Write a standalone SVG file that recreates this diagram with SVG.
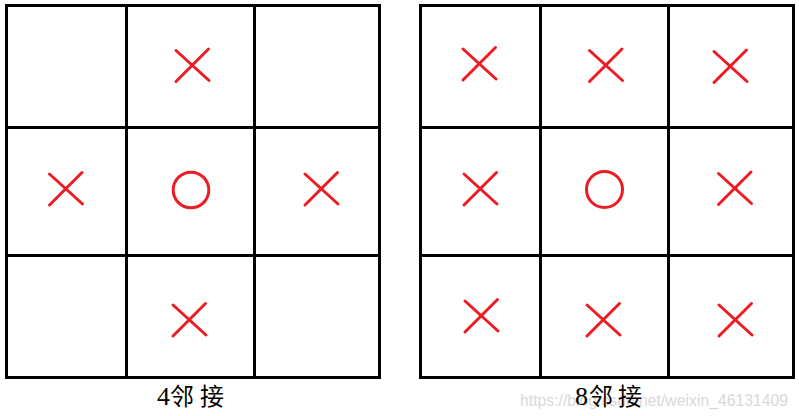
<svg xmlns="http://www.w3.org/2000/svg" xmlns:xlink="http://www.w3.org/1999/xlink" width="799" height="416" viewBox="0 0 799 416">
  <style>
    .grid { fill: none; stroke: #000000; stroke-width: 3; }
    .mark { fill: none; stroke: #ED1C24; stroke-width: 3; stroke-linecap: round; }
    .num { font-family: "Liberation Serif", "DejaVu Serif", serif; font-size: 26px; fill: #000000; }
    .cjk { font-family: "Noto Sans CJK SC", "Noto Sans CJK JP", sans-serif; font-size: 24px; fill: #000000; }
    .wm { font-family: "Liberation Sans", Arial, sans-serif; font-size: 16px; fill: #d9d9d9; }
  </style>
  <defs>
    <path id="cross" d="M-16.5,-14.5 L16.5,15.5 M-16.5,16.5 L16,-16"/>
  </defs>
  <rect width="799" height="416" fill="#ffffff"/>

  <g id="grid-4">
    <rect class="grid" x="6.5" y="5.5" width="373" height="372"/>
    <path class="grid" d="M126.5,5.5 V377.5 M254.5,5.5 V377.5 M6.5,127.5 H379.5 M6.5,255.5 H379.5"/>
    <g id="marks-4">
      <use class="mark" xlink:href="#cross" href="#cross" x="192.5" y="65"/>
      <use class="mark" xlink:href="#cross" href="#cross" x="66" y="188.5"/>
      <use class="mark" xlink:href="#cross" href="#cross" x="321.5" y="188.5"/>
      <use class="mark" xlink:href="#cross" href="#cross" x="189.5" y="319.5"/>
      <circle class="mark" cx="191" cy="190" r="17.8"/>
    </g>
  </g>

  <g id="grid-8">
    <rect class="grid" x="420.5" y="5.5" width="373" height="372"/>
    <path class="grid" d="M540.5,5.5 V377.5 M668.5,5.5 V377.5 M420.5,127.5 H793.5 M420.5,255.5 H793.5"/>
    <g id="marks-8">
      <use class="mark" xlink:href="#cross" href="#cross" x="479.5" y="63.5"/>
      <use class="mark" xlink:href="#cross" href="#cross" x="606" y="65"/>
      <use class="mark" xlink:href="#cross" href="#cross" x="730.5" y="66"/>
      <use class="mark" xlink:href="#cross" href="#cross" x="480.5" y="188.5"/>
      <use class="mark" xlink:href="#cross" href="#cross" x="735" y="188"/>
      <use class="mark" xlink:href="#cross" href="#cross" x="481.5" y="315.5"/>
      <use class="mark" xlink:href="#cross" href="#cross" x="603.5" y="319.5"/>
      <use class="mark" xlink:href="#cross" href="#cross" x="735.5" y="319.5"/>
      <circle class="mark" cx="604.5" cy="189.5" r="18"/>
    </g>
  </g>

  <g id="watermark">
    <text class="wm" x="520" y="406" textLength="268" lengthAdjust="spacingAndGlyphs">https://blog.csdn.net/weixin_46131409</text>
  </g>

  <g id="label-4">
    <text y="405"><tspan class="num" x="157">4</tspan><tspan class="cjk" x="170">邻</tspan><tspan class="cjk" x="200">接</tspan></text>
  </g>
  <g id="label-8">
    <text y="405"><tspan class="num" x="575">8</tspan><tspan class="cjk" x="589">邻</tspan><tspan class="cjk" x="618">接</tspan></text>
  </g>
</svg>
